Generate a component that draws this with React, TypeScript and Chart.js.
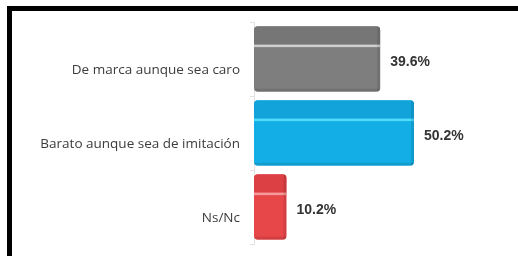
import React, { useEffect, useRef } from "react";
import { Chart, registerables } from "chart.js";

Chart.register(...registerables);

const categories = ["De marca aunque sea caro", "Barato aunque sea de imitación", "Ns/Nc"];
const values = [39.6, 50.2, 10.2];
const valueLabels = ["39.6%", "50.2%", "10.2%"];
const barColors = ["#7e7e7e", "#14aee6", "#e8474a"];
const topColors = ["#767676", "#12a3db", "#dc4044"];
const stripeColors = ["#cfcfcf", "#4fdcfa", "#f49a9a"];

const bar3dPlugin = {
  id: "bar3d",
  afterDatasetsDraw(chart: any) {
    const ctx = chart.ctx;
    const meta = chart.getDatasetMeta(0);
    meta.data.forEach((el: any, i: number) => {
      const { x, y, base, height } = el.getProps(["x", "y", "base", "height"], true);
      const top = y - height / 2;
      const left = base;
      const right = x;
      const stripeY = top + height * 0.28;
      ctx.save();
      ctx.beginPath();
      const r = 4;
      ctx.roundRect ? ctx.roundRect(left, top, right - left, height, r) : ctx.rect(left, top, right - left, height);
      ctx.clip();
      ctx.fillStyle = topColors[i];
      ctx.fillRect(left, top, right - left, stripeY - top);
      ctx.fillStyle = stripeColors[i];
      ctx.fillRect(left, stripeY, right - left, 2.5);
      ctx.fillStyle = "rgba(0,0,0,0.10)";
      ctx.fillRect(right - 3, top, 3, height);
      ctx.fillRect(left, top + height - 3, right - left, 3);
      ctx.restore();

      ctx.save();
      ctx.font = "bold 14px 'Liberation Sans', Arial, sans-serif";
      ctx.fillStyle = "#333333";
      ctx.textAlign = "left";
      ctx.textBaseline = "middle";
      ctx.fillText(valueLabels[i], x + 10, y + 3);
      ctx.restore();
    });
  },
};

export default function App() {
  const ref = useRef<HTMLCanvasElement | null>(null);
  useEffect(() => {
    if (!ref.current) return;
    const chart = new Chart(ref.current, {
      type: "bar",
      data: {
        labels: categories,
        datasets: [
          {
            data: values,
            backgroundColor: barColors,
            borderRadius: 4,
            borderSkipped: false,
            barPercentage: 0.94,
            categoryPercentage: 0.94,
          },
        ],
      },
      options: {
        indexAxis: "y",
        animation: false,
        responsive: false,
        maintainAspectRatio: false,
        layout: { padding: { top: 22, bottom: 12, left: 0, right: 9 } },
        plugins: { legend: { display: false }, tooltip: { enabled: false } },
        scales: {
          x: { display: false, min: 0, max: 80 },
          y: {
            afterFit(scale: any) {
              scale.width = 254;
              scale.paddingTop = 0;
              scale.paddingBottom = 0;
            },
            border: { display: true, color: "#e2e2e2", width: 1 },
            grid: { drawOnChartArea: false, tickLength: 4, color: "#e2e2e2" },
            ticks: {
              color: "#3c3c3c",
              padding: 10,
              labelOffset: 11,
              font: { family: "'Open Sans', sans-serif", size: 13.5 },
            },
          },
        },
      },
      plugins: [bar3dPlugin],
    } as any);
    return () => chart.destroy();
  }, []);
  return (
    <div style={{ position: "fixed", left: 0, top: 0, width: 518, height: 256, background: "#fff", overflow: "hidden" }}>
      <div
        style={{
          position: "absolute",
          left: 7,
          top: 6,
          right: 0,
          bottom: 0,
          borderTop: "5px solid #000",
          borderLeft: "5px solid #000",
        }}
      />
      <canvas ref={ref} width={518} height={256} style={{ position: "absolute", left: 0, top: 0 }} />
    </div>
  );
}
